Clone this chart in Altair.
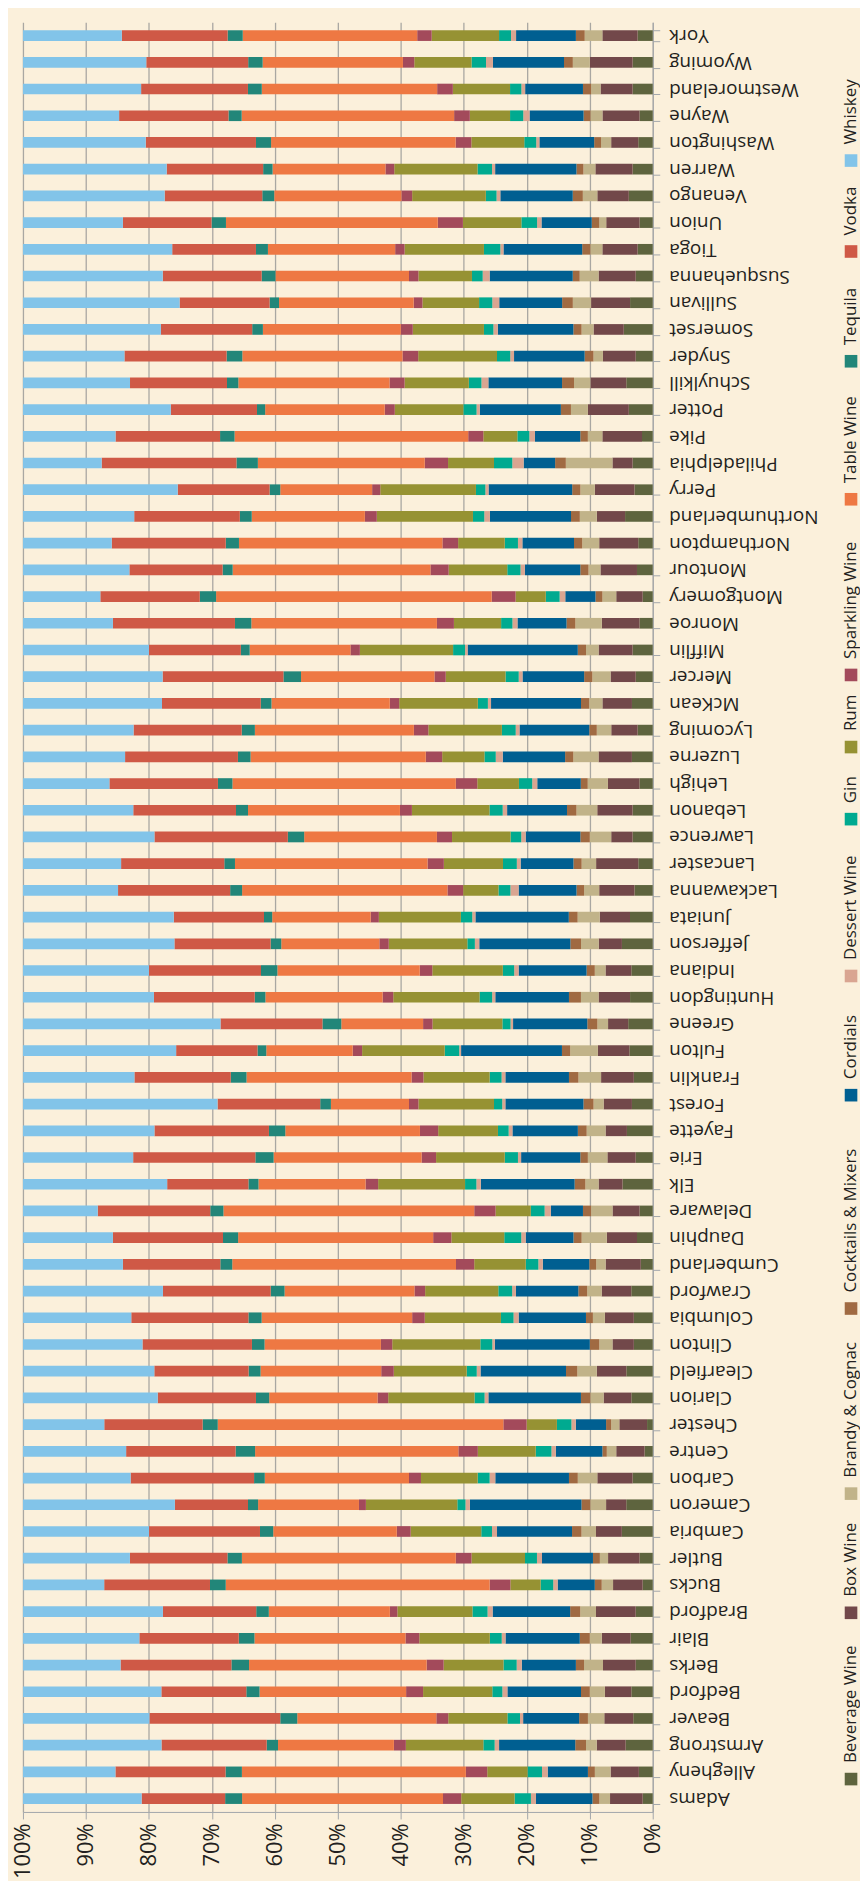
import altair as alt
import pandas as pd

counties = [
    "Adams", "Allegheny", "Armstrong", "Beaver", "Bedford", "Berks", "Blair", "Bradford", "Bucks", "Butler",
    "Cambria", "Cameron", "Carbon", "Centre", "Chester", "Clarion", "Clearfield", "Clinton", "Columbia", "Crawford",
    "Cumberland", "Dauphin", "Delaware", "Elk", "Erie", "Fayette", "Forest", "Franklin", "Fulton", "Greene",
    "Huntingdon", "Indiana", "Jefferson", "Juniata", "Lackawanna", "Lancaster", "Lawrence", "Lebanon", "Lehigh", "Luzerne",
    "Lycoming", "McKean", "Mercer", "Mifflin", "Monroe", "Montgomery", "Montour", "Northampton", "Northumberland", "Perry",
    "Philadelphia", "Pike", "Potter", "Schuylkill", "Snyder", "Somerset", "Sullivan", "Susquehanna", "Tioga", "Union",
    "Venango", "Warren", "Washington", "Wayne", "Westmoreland", "Wyoming", "York",
]

categories = ["Beverage Wine", "Box Wine", "Brandy & Cognac", "Cocktails & Mixers", "Cordials",
              "Dessert Wine", "Gin", "Rum", "Sparkling Wine", "Table Wine", "Tequila", "Vodka", "Whiskey"]
colors = ["#5E643E", "#72484A", "#C1B389", "#A06A42", "#005F91",
          "#D9A591", "#00AA90", "#969233", "#A34A5B", "#EE7843", "#228679", "#CF5946", "#82C4E9"]

beverage_wine = [1.6, 2.2, 4.3, 3.1, 3.4, 2.7, 3.5, 2.7, 1.6, 2.1,
                 4.9, 4.2, 3.2, 1.3, 0.9, 3.4, 4.2, 3.0, 3.0, 3.4,
                 1.9, 2.5, 2.1, 4.8, 2.7, 4.1, 3.3, 3.0, 3.7, 3.9,
                 3.6, 3.4, 4.9, 3.6, 2.9, 2.3, 3.2, 3.2, 2.1, 3.3,
                 2.4, 3.3, 2.7, 3.2, 2.1, 1.6, 2.5, 2.3, 4.4, 2.9,
                 3.2, 1.7, 3.8, 4.2, 2.7, 4.6, 3.6, 2.7, 2.4, 2.1,
                 3.8, 3.2, 2.3, 2.1, 3.2, 3.2, 2.4]
box_wine = [5.2, 4.5, 4.6, 4.6, 4.2, 5.2, 4.6, 6.3, 4.7, 5.0,
            4.1, 3.2, 5.6, 4.5, 4.4, 4.4, 4.7, 3.4, 4.6, 4.7,
            5.6, 4.8, 4.3, 3.8, 4.5, 3.4, 4.5, 5.2, 5.0, 3.2,
            5.0, 4.1, 3.7, 4.8, 5.6, 6.7, 3.4, 5.6, 5.0, 5.3,
            4.2, 4.7, 4.0, 5.4, 6.0, 4.2, 5.8, 6.2, 4.5, 6.3,
            3.2, 6.3, 6.5, 5.7, 5.2, 4.8, 6.2, 5.9, 5.6, 5.3,
            5.0, 5.9, 4.3, 5.9, 5.1, 6.8, 5.6]
brandy_cognac = [1.7, 2.5, 1.7, 2.6, 2.4, 3.0, 1.9, 2.5, 1.8, 1.3,
                 2.3, 2.5, 3.1, 1.5, 1.3, 2.1, 3.1, 2.1, 1.9, 2.3,
                 1.5, 4.0, 3.4, 2.1, 3.1, 3.0, 1.6, 3.6, 4.4, 1.7,
                 2.8, 1.7, 2.8, 3.5, 2.4, 2.3, 3.4, 3.3, 3.2, 4.0,
                 2.3, 2.1, 2.9, 2.0, 4.2, 2.2, 1.9, 2.7, 2.7, 2.3,
                 7.4, 2.3, 2.7, 2.6, 1.5, 1.9, 2.9, 3.0, 1.9, 1.1,
                 2.3, 1.9, 1.6, 1.9, 1.5, 2.7, 2.8]
cocktails_mixers = [1.1, 1.1, 1.7, 1.4, 1.4, 1.3, 1.6, 1.6, 1.1, 1.1,
                    1.5, 1.4, 1.4, 0.7, 0.8, 1.5, 1.8, 1.5, 1.1, 1.4,
                    1.1, 1.3, 1.3, 1.7, 1.2, 1.4, 1.6, 1.5, 1.3, 1.6,
                    1.9, 1.3, 1.7, 1.4, 1.2, 1.3, 1.5, 1.5, 1.1, 1.3,
                    1.2, 1.3, 1.3, 1.3, 1.4, 1.1, 1.3, 1.3, 1.4, 1.3,
                    1.7, 1.2, 1.6, 1.9, 1.4, 1.3, 1.7, 1.1, 1.3, 1.2,
                    1.6, 1.1, 1.1, 1.1, 1.3, 1.4, 1.4]
cordials = [9.0, 6.4, 12.1, 8.9, 11.7, 8.6, 11.8, 12.3, 5.9, 8.1,
            11.9, 17.7, 11.7, 7.4, 4.8, 14.7, 13.6, 15.1, 10.7, 9.9,
            7.4, 7.6, 5.1, 14.9, 9.4, 10.4, 12.4, 10.1, 16.0, 11.8,
            11.7, 10.8, 14.5, 14.8, 9.2, 8.4, 8.7, 9.5, 6.9, 9.9,
            11.1, 14.3, 9.8, 17.5, 7.8, 4.8, 8.8, 8.2, 12.9, 13.3,
            5.0, 7.2, 12.9, 11.7, 11.2, 12.0, 10.0, 13.2, 12.5, 8.0,
            11.5, 12.9, 8.7, 8.6, 9.2, 11.3, 9.5]
dessert_wine = [0.8, 0.9, 0.7, 0.5, 0.8, 0.8, 0.6, 0.8, 0.7, 0.8,
                0.8, 0.7, 0.9, 0.7, 0.7, 0.6, 0.6, 0.4, 0.8, 0.6,
                0.7, 0.7, 1.0, 0.7, 0.5, 0.6, 0.5, 0.6, 0.3, 0.4,
                0.5, 0.7, 0.7, 0.5, 1.3, 0.6, 0.7, 0.7, 0.8, 1.1,
                0.6, 0.5, 0.6, 0.4, 0.8, 0.9, 0.7, 0.7, 0.9, 0.5,
                1.8, 0.9, 0.5, 1.1, 0.6, 0.7, 1.1, 1.1, 0.5, 0.7,
                0.6, 0.5, 0.5, 1.0, 0.6, 1.1, 0.8]
gin = [2.6, 2.3, 1.8, 2.0, 1.6, 2.1, 1.9, 2.4, 2.0, 1.9,
       1.7, 1.3, 1.9, 2.5, 2.3, 1.6, 1.6, 1.9, 2.0, 2.2,
       2.0, 2.7, 2.2, 1.8, 2.1, 1.7, 1.3, 1.9, 2.3, 1.3,
       2.0, 1.8, 1.2, 1.8, 1.9, 2.2, 1.7, 2.1, 2.1, 1.8,
       2.2, 1.6, 2.1, 1.9, 1.8, 2.2, 2.1, 2.1, 1.8, 1.5,
       2.9, 1.9, 2.1, 2.0, 2.1, 1.5, 2.1, 1.7, 2.6, 2.5,
       1.7, 2.3, 1.9, 2.1, 1.8, 2.3, 1.9]
rum = [8.5, 6.4, 12.3, 9.4, 11.0, 9.5, 11.2, 11.9, 4.8, 8.5,
       11.2, 14.5, 9.0, 9.2, 4.8, 13.7, 11.6, 14.0, 12.1, 11.6,
       8.2, 8.4, 5.6, 13.8, 10.9, 9.5, 12.0, 10.5, 13.1, 11.1,
       13.7, 11.2, 12.5, 13.0, 5.6, 9.4, 9.3, 12.3, 6.6, 6.7,
       11.7, 12.5, 9.5, 14.8, 7.5, 4.8, 9.3, 7.4, 15.3, 15.2,
       7.3, 5.4, 10.9, 10.2, 12.5, 11.3, 9.0, 8.5, 12.6, 9.3,
       11.7, 13.2, 8.4, 6.4, 9.1, 9.1, 10.7]
sparkling_wine = [2.9, 3.4, 1.9, 1.9, 2.7, 2.7, 2.2, 1.2, 3.3, 2.5,
                  2.2, 1.1, 1.9, 3.1, 3.7, 1.7, 2.0, 1.8, 2.0, 1.7,
                  2.9, 2.9, 3.4, 2.0, 2.3, 2.9, 1.5, 1.9, 1.5, 1.5,
                  1.7, 2.0, 1.5, 1.3, 2.5, 2.6, 2.4, 1.9, 3.4, 2.6,
                  2.3, 1.5, 1.8, 1.5, 2.7, 3.8, 2.9, 2.5, 1.9, 1.3,
                  3.7, 2.4, 1.6, 2.4, 2.5, 1.9, 1.4, 1.5, 1.5, 4.0,
                  1.7, 1.4, 2.5, 2.5, 2.5, 1.8, 2.3]
table_wine = [32.0, 35.6, 18.4, 22.1, 23.3, 28.2, 24.0, 19.2, 41.9, 34.0,
              19.6, 16.0, 22.9, 32.3, 45.3, 17.2, 19.2, 18.5, 23.9, 20.6,
              35.6, 31.0, 39.9, 17.0, 23.5, 21.4, 12.4, 26.2, 13.7, 13.0,
              18.6, 22.6, 15.6, 15.6, 32.6, 30.6, 21.1, 24.1, 35.4, 27.8,
              25.3, 18.8, 21.2, 16.0, 29.5, 43.8, 31.4, 32.3, 18.0, 14.6,
              26.5, 37.1, 19.0, 24.0, 25.4, 21.9, 21.4, 21.2, 20.2, 33.7,
              20.2, 17.9, 29.3, 33.8, 27.9, 22.3, 27.7]
tequila = [2.7, 2.6, 1.8, 2.7, 2.1, 2.8, 2.5, 2.0, 2.5, 2.3,
           2.1, 1.6, 1.7, 3.1, 2.4, 2.1, 1.9, 2.0, 2.1, 2.2,
           1.9, 2.4, 2.1, 1.6, 2.9, 2.6, 1.7, 2.5, 1.4, 3.0,
           1.7, 2.6, 1.7, 1.3, 1.9, 1.7, 2.6, 1.9, 2.3, 2.0,
           2.1, 1.7, 2.8, 1.4, 2.6, 2.6, 1.6, 2.1, 1.9, 1.7,
           3.4, 2.3, 1.3, 1.8, 2.5, 1.7, 1.5, 2.2, 1.9, 2.3,
           1.9, 1.5, 2.4, 2.1, 2.2, 2.3, 2.4]
vodka = [13.3, 17.5, 16.7, 20.8, 13.5, 17.6, 15.8, 14.8, 16.8, 15.5,
         17.6, 11.6, 19.6, 17.4, 15.6, 15.6, 15.0, 17.4, 18.6, 17.1,
         15.5, 17.5, 17.9, 12.9, 19.4, 18.2, 16.3, 15.3, 12.9, 16.2,
         16.0, 17.8, 15.3, 14.3, 17.8, 16.4, 21.2, 16.3, 17.2, 17.9,
         17.2, 15.7, 19.2, 14.6, 19.4, 15.8, 14.8, 18.1, 16.8, 14.6,
         21.4, 16.6, 13.7, 15.4, 16.2, 14.5, 14.3, 15.7, 13.3, 14.1,
         15.5, 15.3, 17.5, 17.4, 17.0, 16.2, 16.8]
whiskey = [18.9, 14.7, 22.0, 20.1, 22.0, 15.5, 18.5, 22.2, 12.9, 17.0,
           20.0, 24.1, 17.1, 16.4, 12.9, 21.4, 20.9, 19.0, 17.2, 22.2,
           15.9, 14.3, 11.9, 22.9, 17.5, 20.9, 30.9, 17.7, 24.3, 31.4,
           20.8, 20.0, 24.1, 23.9, 15.1, 15.6, 20.9, 17.5, 13.7, 16.2,
           17.6, 22.1, 22.2, 20.0, 14.3, 12.3, 16.9, 14.1, 17.7, 24.6,
           12.5, 14.7, 23.5, 17.0, 16.1, 21.9, 24.9, 22.2, 23.7, 15.9,
           22.5, 22.8, 19.5, 15.3, 18.8, 19.6, 15.7]

tick_values = [0, 0.1, 0.2, 0.3, 0.4, 0.5, 0.6, 0.7, 0.8, 0.9, 1.0]

series = [beverage_wine, box_wine, brandy_cognac, cocktails_mixers, cordials, dessert_wine,
          gin, rum, sparkling_wine, table_wine, tequila, vodka, whiskey]
for s in series:
    assert len(s) == len(counties)

rows = []
for ci, (cat, vals) in enumerate(zip(categories, series)):
    for county, v in zip(counties, vals):
        rows.append({"county": county, "category": cat, "idx": ci, "value": v})
df = pd.DataFrame(rows)

H = 1796
W = 632
FONT = "Open Sans"
INK = "#231F20"
AXIS_GRAY = "#A3A7AB"

color_scale = alt.Scale(domain=categories, range=colors)

bars = alt.Chart(df).mark_bar().encode(
    x=alt.X(
        "value:Q", stack="normalize",
        scale=alt.Scale(reverse=True, domain=[0, 1], nice=False),
        axis=alt.Axis(
            orient="bottom", values=tick_values, format="%", title=None,
            labelAngle=270, labelAlign="right", labelBaseline="middle", labelFlush=False,
            labelFont=FONT, labelFontSize=22, labelColor=INK, labelPadding=4,
            tickSize=7, tickColor=AXIS_GRAY, domainColor=AXIS_GRAY,
            grid=True, gridColor="#A9A7A2", gridWidth=1.3,
        ),
    ),
    y=alt.Y(
        "county:N", sort=counties[::-1],
        scale=alt.Scale(paddingInner=0.6, paddingOuter=0.3),
        axis=alt.Axis(
            orient="right", title=None, tickBand="extent",
            labelAngle=180, labelAlign="right", labelBaseline="middle",
            labelFont=FONT, labelFontSize=19, labelColor=INK, labelPadding=9,
            tickSize=7, tickColor=AXIS_GRAY, domainColor=AXIS_GRAY, grid=False,
        ),
    ),
    color=alt.Color("category:N", scale=color_scale, legend=None),
    order=alt.Order("idx:Q", sort="ascending"),
).properties(width=W, height=H)

leg_df = pd.DataFrame({"category": categories, "idx": list(range(len(categories)))})
leg_base = alt.Chart(leg_df).transform_calculate(
    w="44 + 9.45 * length(datum.category)"
).transform_window(
    cum="sum(w)", sort=[alt.SortField("idx", order="ascending")], frame=[None, 0]
).transform_calculate(
    sym="datum.cum - datum.w + 33",
    txt="datum.cum - datum.w + 49",
)
yscale = alt.Scale(domain=[0, H], nice=False, zero=False)
squares = leg_base.mark_square(size=160, opacity=1).encode(
    x=alt.value(7),
    y=alt.Y("sym:Q", scale=yscale, axis=None),
    color=alt.Color("category:N", scale=color_scale, legend=None),
)
texts = leg_base.mark_text(
    angle=270, align="left", baseline="middle", font=FONT, fontSize=17, color=INK
).encode(
    x=alt.value(7),
    y=alt.Y("txt:Q", scale=yscale, axis=None),
    text="category:N",
)
legend = alt.layer(squares, texts).properties(width=14, height=H)

chart = alt.hconcat(bars, legend, spacing=22).properties(
    padding={"left": 3, "top": 0, "right": 0, "bottom": 0},
    background="#FBF0DB",
).configure_view(stroke="transparent")

chart.save("out.html", embed_options={"renderer": "svg", "actions": False})
